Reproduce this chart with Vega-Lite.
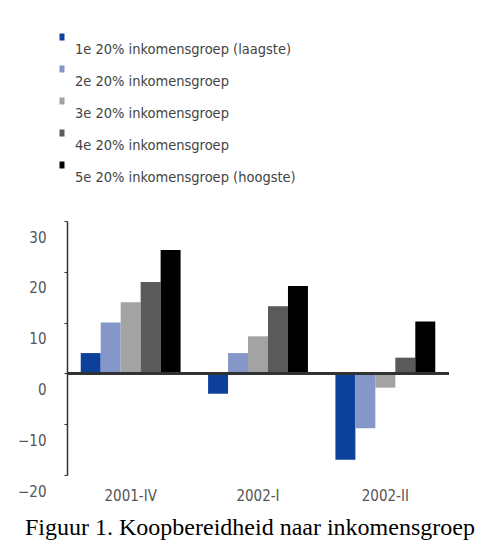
{
  "$schema": "https://vega.github.io/schema/vega-lite/v6.json",
  "autosize": {"type": "none"},
  "padding": {"left": 67, "top": 221, "right": 36, "bottom": 71},
  "width": 382,
  "height": 254,
  "background": "white",
  "config": {"view": {"stroke": null}},
  "title": {
    "text": "Figuur 1. Koopbereidheid naar inkomensgroep",
    "orient": "bottom",
    "anchor": "start",
    "frame": "group",
    "dx": -42,
    "offset": 13,
    "font": "Liberation Serif",
    "fontSize": 24,
    "fontWeight": "normal",
    "color": "#000000"
  },
  "data": {
    "values": [
      {"period": "2001-IV", "group": "1e 20% inkomensgroep (laagste)", "value": 4},
      {"period": "2001-IV", "group": "2e 20% inkomensgroep", "value": 10},
      {"period": "2001-IV", "group": "3e 20% inkomensgroep", "value": 14},
      {"period": "2001-IV", "group": "4e 20% inkomensgroep", "value": 18},
      {"period": "2001-IV", "group": "5e 20% inkomensgroep (hoogste)", "value": 24.3},
      {"period": "2002-I", "group": "1e 20% inkomensgroep (laagste)", "value": -4},
      {"period": "2002-I", "group": "2e 20% inkomensgroep", "value": 4},
      {"period": "2002-I", "group": "3e 20% inkomensgroep", "value": 7.3},
      {"period": "2002-I", "group": "4e 20% inkomensgroep", "value": 13.2},
      {"period": "2002-I", "group": "5e 20% inkomensgroep (hoogste)", "value": 17.2},
      {"period": "2002-II", "group": "1e 20% inkomensgroep (laagste)", "value": -17},
      {"period": "2002-II", "group": "2e 20% inkomensgroep", "value": -10.8},
      {"period": "2002-II", "group": "3e 20% inkomensgroep", "value": -2.8},
      {"period": "2002-II", "group": "4e 20% inkomensgroep", "value": 3.1},
      {"period": "2002-II", "group": "5e 20% inkomensgroep (hoogste)", "value": 10.2}
    ]
  },
  "layer": [
    {
      "mark": {"type": "bar"},
      "encoding": {
        "x": {
          "field": "period",
          "type": "nominal",
          "sort": null,
          "scale": {"paddingInner": 0.2157, "paddingOuter": 0.1078},
          "axis": {
            "title": null,
            "domain": false,
            "ticks": false,
            "labelAngle": 0,
            "labelPadding": 13,
            "labelFont": "DejaVu Sans Condensed",
            "labelFontSize": 15,
            "labelColor": "#555555"
          }
        },
        "xOffset": {"field": "group", "type": "nominal", "sort": null},
        "y": {
          "field": "value",
          "type": "quantitative",
          "scale": {"domain": [-20, 30], "nice": false},
          "axis": {
            "title": null,
            "grid": false,
            "values": [-20, -10, 0, 10, 20, 30],
            "domainColor": "#333333",
            "domainWidth": 1.5,
            "tickColor": "#333333",
            "tickSize": 3,
            "labelOffset": 16,
            "labelPadding": 18,
            "labelFont": "DejaVu Sans Condensed",
            "labelFontSize": 15,
            "labelColor": "#555555",
            "labelBound": false,
            "labelFlush": false,
            "labelOverlap": false
          }
        },
        "color": {
          "field": "group",
          "type": "nominal",
          "sort": null,
          "scale": {
            "domain": [
              "1e 20% inkomensgroep (laagste)",
              "2e 20% inkomensgroep",
              "3e 20% inkomensgroep",
              "4e 20% inkomensgroep",
              "5e 20% inkomensgroep (hoogste)"
            ],
            "range": ["#0c409b", "#8597c9", "#a3a3a3", "#5a5a5a", "#000000"]
          },
          "legend": {
            "title": null,
            "orient": "none",
            "legendX": -15,
            "legendY": -181,
            "symbolType": "M-0.25,-1.65H0.25V-0.95H-0.25Z",
            "symbolSize": 400,
            "symbolStrokeWidth": 0,
            "labelFont": "DejaVu Sans Condensed",
            "labelFontSize": 14.5,
            "labelColor": "#444444",
            "labelOffset": 3,
            "rowPadding": 8,
            "padding": 0,
            "labelLimit": 400
          }
        }
      }
    },
    {
      "mark": {"type": "rule", "color": "#333333", "strokeWidth": 1.5},
      "encoding": {"y": {"datum": 0}}
    }
  ]
}
